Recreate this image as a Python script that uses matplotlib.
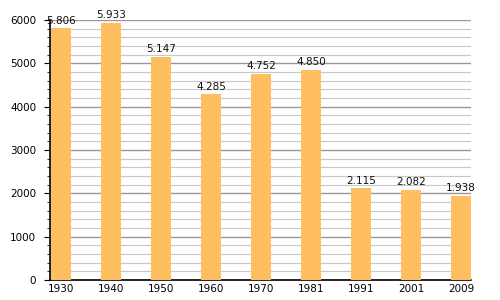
import matplotlib
matplotlib.use("Agg")
import matplotlib.pyplot as plt
from matplotlib.ticker import MultipleLocator

years = ["1930", "1940", "1950", "1960", "1970", "1981", "1991", "2001", "2009"]
population = [5806, 5933, 5147, 4285, 4752, 4850, 2115, 2082, 1938]

fig = plt.figure(figsize=(5, 3), dpi=100)
ax = fig.add_axes([50 / 500, 20 / 300, 421 / 500, 260 / 300])

xs = list(range(len(years)))
ax.bar(xs, population, width=0.4, color="#ffbf60", zorder=3)

for x, v in zip(xs, population):
    label = f"{v:,}".replace(",", ".")
    ax.text(x, v + 60, label, ha="center", va="bottom", fontsize=7.5,
            color="#111111", zorder=4)

ax.set_xlim(-0.22, 8.2)
ax.set_ylim(0, 6000)
ax.set_xticks(xs)
ax.set_xticklabels(years)
ax.yaxis.set_major_locator(MultipleLocator(1000))
ax.yaxis.set_minor_locator(MultipleLocator(200))
ax.grid(axis="y", which="major", color="#999999", linewidth=1.0, zorder=0)
ax.grid(axis="y", which="minor", color="#c8c8c8", linewidth=0.8, zorder=0)
ax.tick_params(axis="y", which="major", length=4, labelsize=7.5, pad=6)
ax.tick_params(axis="y", which="minor", length=2)
ax.tick_params(axis="x", length=0, labelsize=7.5, pad=3)
for s in ("top", "right"):
    ax.spines[s].set_visible(False)
ax.spines["left"].set_linewidth(1.2)
ax.spines["bottom"].set_linewidth(1.2)

fig.savefig("out.png", dpi=100)
